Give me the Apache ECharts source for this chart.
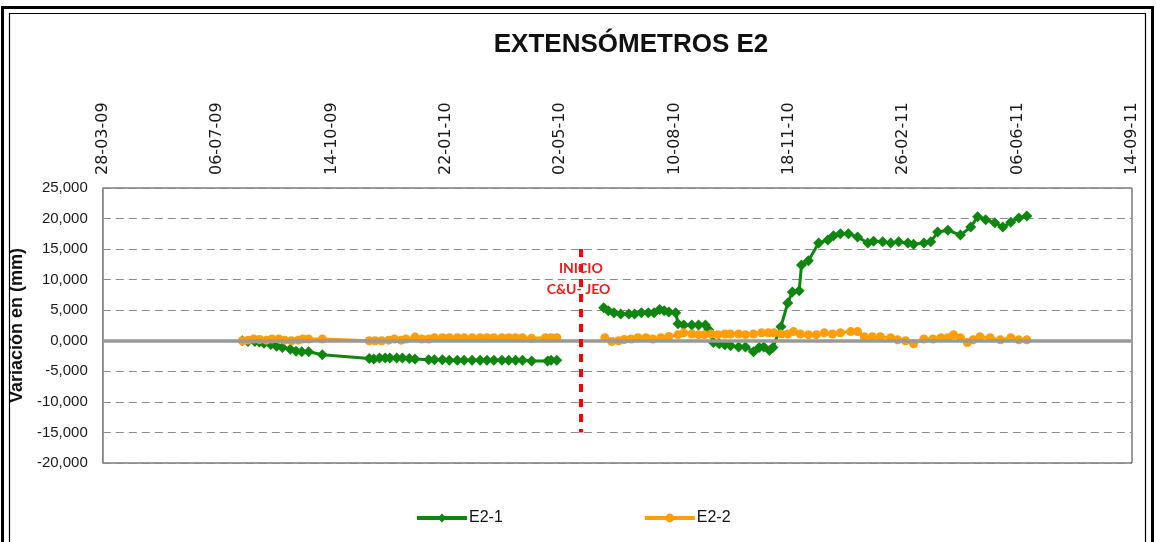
<!DOCTYPE html>
<html>
<head>
<meta charset="utf-8">
<script src="https://cdn.jsdelivr.net/npm/echarts@6/dist/echarts.min.js"></script>
<style>
  html, body { margin: 0; padding: 0; background: #fff; }
  #chart { width: 1156px; height: 542px; }
</style>
</head>
<body>
<div id="chart"></div>
<script>
// Extensometer E2 readings (mm). A null value breaks the line at the start of works.
const datesE21 = [
  '2009-07-28','2009-08-02','2009-08-08','2009-08-12','2009-08-16','2009-08-22','2009-08-27',
  '2009-09-01','2009-09-08','2009-09-13','2009-09-18','2009-09-24','2009-10-06','2009-11-16',
  '2009-11-20','2009-11-25','2009-11-30','2009-12-04','2009-12-10','2009-12-15','2009-12-21',
  '2009-12-26','2010-01-07','2010-01-12','2010-01-19','2010-01-25','2010-02-01','2010-02-07',
  '2010-02-14','2010-02-21','2010-02-27','2010-03-05','2010-03-12','2010-03-18','2010-03-24',
  '2010-03-30','2010-04-07','2010-04-21','2010-04-24','2010-04-29',
  '2010-05-20',
  '2010-06-09','2010-06-13','2010-06-18','2010-06-24','2010-07-01','2010-07-06','2010-07-12',
  '2010-07-18','2010-07-23','2010-07-28','2010-08-01','2010-08-05','2010-08-11','2010-08-13',
  '2010-08-18','2010-08-25','2010-08-31','2010-09-06','2010-09-09','2010-09-13','2010-09-18',
  '2010-09-23','2010-09-28','2010-10-05','2010-10-11','2010-10-18','2010-10-23','2010-10-27',
  '2010-11-01','2010-11-04','2010-11-11','2010-11-17','2010-11-21','2010-11-27','2010-11-29',
  '2010-12-05','2010-12-14','2010-12-22','2010-12-27','2011-01-02','2011-01-09','2011-01-17',
  '2011-01-26','2011-01-31','2011-02-08','2011-02-15','2011-02-22','2011-03-02','2011-03-07',
  '2011-03-16','2011-03-22','2011-03-28','2011-04-06','2011-04-17','2011-04-26','2011-05-02',
  '2011-05-09','2011-05-17','2011-05-24','2011-05-31','2011-06-07','2011-06-14'
];
const valuesE21 = [
  0.0, -0.1, -0.1, -0.2, -0.4, -0.6, -0.9,
  -1.1, -1.4, -1.7, -1.8, -1.8, -2.3, -2.9,
  -3.0, -2.8, -2.8, -2.8, -2.8, -2.8, -2.9,
  -3.0, -3.1, -3.1, -3.1, -3.2, -3.2, -3.2,
  -3.2, -3.2, -3.2, -3.2, -3.2, -3.2, -3.2,
  -3.2, -3.3, -3.3, -3.2, -3.2,
  null,
  5.4, 4.9, 4.6, 4.4, 4.4, 4.4, 4.6,
  4.6, 4.6, 5.1, 4.9, 4.7, 4.6, 2.8,
  2.6, 2.6, 2.6, 2.6, 1.8, -0.3, -0.5,
  -0.65, -0.8, -1.0, -1.0, -1.8, -1.1, -1.0,
  -1.6, -1.1, 2.3, 6.2, 8.0, 8.2, 12.4,
  13.1, 16.0, 16.5, 17.2, 17.5, 17.5, 17.0,
  16.0, 16.3, 16.2, 16.0, 16.2, 16.0, 15.8,
  16.0, 16.2, 17.8, 18.1, 17.3, 18.6, 20.3,
  19.8, 19.3, 18.6, 19.4, 20.1, 20.4
];

const datesE22 = [
  '2009-07-28','2009-08-02','2009-08-07','2009-08-12','2009-08-18','2009-08-23','2009-08-29',
  '2009-09-03','2009-09-09','2009-09-15','2009-09-19','2009-09-24','2009-10-06','2009-11-16',
  '2009-11-21','2009-11-27','2009-12-03','2009-12-08','2009-12-14','2009-12-18','2009-12-26',
  '2010-01-01','2010-01-07','2010-01-12','2010-01-19','2010-01-25','2010-02-01','2010-02-07',
  '2010-02-14','2010-02-21','2010-02-27','2010-03-05','2010-03-12','2010-03-18','2010-03-24',
  '2010-03-30','2010-04-07','2010-04-19','2010-04-24','2010-04-29',
  '2010-05-20',
  '2010-06-10','2010-06-16','2010-06-22','2010-06-27','2010-07-03','2010-07-09','2010-07-16',
  '2010-07-22','2010-07-29','2010-08-05','2010-08-13','2010-08-18','2010-08-25','2010-08-31',
  '2010-09-05','2010-09-11','2010-09-17','2010-09-23','2010-09-28','2010-10-05','2010-10-11',
  '2010-10-18','2010-10-25','2010-10-31','2010-11-05','2010-11-11','2010-11-17','2010-11-22',
  '2010-11-28','2010-12-05','2010-12-12','2010-12-19','2010-12-26','2011-01-02','2011-01-11',
  '2011-01-17','2011-01-23','2011-01-30','2011-02-06','2011-02-15','2011-02-21','2011-02-28',
  '2011-03-07','2011-03-16','2011-03-24','2011-03-31','2011-04-06','2011-04-11','2011-04-17',
  '2011-04-23','2011-04-28','2011-05-04','2011-05-13','2011-05-22','2011-05-31','2011-06-07',
  '2011-06-14'
];
const valuesE22 = [
  0.0, 0.1, 0.3, 0.2, 0.1, 0.3, 0.3,
  0.1, 0.0, 0.1, 0.3, 0.3, 0.3, 0.0,
  0.0, 0.0, 0.1, 0.3, 0.1, 0.3, 0.6,
  0.3, 0.3, 0.5, 0.5, 0.5, 0.5, 0.5,
  0.5, 0.5, 0.5, 0.5, 0.5, 0.5, 0.5,
  0.5, 0.4, 0.5, 0.5, 0.5,
  null,
  0.5, -0.1, 0.0, 0.2, 0.3, 0.5, 0.5,
  0.3, 0.5, 0.7, 1.0, 1.3, 1.1, 1.0,
  1.0, 1.1, 1.0, 1.1, 1.1, 1.1, 1.0,
  1.1, 1.3, 1.3, 1.3, 1.1, 1.1, 1.5,
  1.1, 1.0, 1.0, 1.3, 1.1, 1.3, 1.5,
  1.5, 0.65, 0.65, 0.65, 0.5, 0.15, 0.0,
  -0.5, 0.3, 0.3, 0.5, 0.5, 1.0, 0.5,
  -0.3, 0.15, 0.65, 0.5, 0.15, 0.5, 0.15,
  0.15
];

// Start of works marker
const startDate = '2010-05-20';
const startLabels = ['INICIO', 'C&U- JEO'];

// Date axis: ticks every 100 days from 28-03-09 to 14-09-11
const DAY = 86400000;
const axisStart = Date.UTC(2009, 2, 28);
const axisStepDays = 100;
const axisSteps = 9;

const pairs = (dates, vals) => dates.map((d, i) => [Date.parse(d), vals[i] === null ? '-' : vals[i]]);
const pad = n => String(n).padStart(2, '0');
const fmtDate = v => {
  const d = new Date(v);
  return pad(d.getUTCDate()) + '-' + pad(d.getUTCMonth() + 1) + '-' + pad(d.getUTCFullYear() % 100);
};
const fmtNum = v => v.toFixed(3).replace('.', ',');

const GREEN = '#0f860f';
const ORANGE = '#ff9d0a';
const startT = Date.parse(startDate);

const chart = echarts.init(document.getElementById('chart'), null, { renderer: 'canvas' });
chart.setOption({
  animation: false,
  backgroundColor: '#ffffff',
  title: {
    text: 'EXTENSÓMETROS E2',
    left: 626, top: 27, textAlign: 'center',
    textStyle: { fontFamily: 'Liberation Sans, Arial, sans-serif', fontWeight: 'bold', fontSize: 26, color: '#111' }
  },
  graphic: [
    { type: 'rect', silent: true, z: 100, shape: { x: 2.5, y: 7.5, width: 1150, height: 560 },
      style: { fill: 'none', stroke: '#000', lineWidth: 3 } },
    { type: 'rect', silent: true, z: 100, shape: { x: 9.5, y: 13.5, width: 1136, height: 560 },
      style: { fill: 'none', stroke: '#000', lineWidth: 1.2 } }
  ],
  legend: {
    left: 410, top: 505,
    itemWidth: 50, itemHeight: 11, itemGap: 140,
    lineStyle: { width: 4 },
    textStyle: { fontFamily: 'Liberation Sans, Arial, sans-serif', fontSize: 16, color: '#111', padding: [0, 0, 0, -3] },
    data: ['E2-1', 'E2-2']
  },
  grid: {
    left: 100, right: 24, top: 188, bottom: 79,
    show: true, borderColor: '#3a3a3a', borderWidth: 1, backgroundColor: 'transparent'
  },
  xAxis: {
    type: 'value', position: 'top',
    min: axisStart, max: axisStart + axisSteps * axisStepDays * DAY, interval: axisStepDays * DAY,
    axisLine: { show: false }, axisTick: { show: false }, splitLine: { show: false },
    axisLabel: {
      rotate: 90, margin: 13, formatter: fmtDate,
      fontFamily: 'DejaVu Sans, sans-serif', fontSize: 16, color: '#1a1a1a'
    }
  },
  yAxis: {
    type: 'value', min: -20, max: 25, interval: 5,
    name: 'Variación en (mm)', nameLocation: 'middle', nameGap: 66, nameRotate: 90,
    nameTextStyle: { fontFamily: 'Liberation Sans, Arial, sans-serif', fontWeight: 'bold', fontSize: 18, color: '#111' },
    axisLine: { show: true, lineStyle: { color: '#8c8c8c', width: 1.5 } },
    axisTick: { show: false },
    splitLine: { show: true, lineStyle: { color: '#8c8c8c', width: 1.2, type: [8, 5] } },
    axisLabel: {
      margin: 15, formatter: fmtNum,
      fontFamily: 'Liberation Sans, Arial, sans-serif', fontSize: 15, color: '#1a1a1a'
    }
  },
  series: [
    {
      // zero reference line
      type: 'line', name: '_zero', data: [], silent: true, z: 1,
      markLine: {
        silent: true, symbol: 'none', label: { show: false },
        lineStyle: { color: '#999999', width: 3.5, type: 'solid' },
        data: [{ yAxis: 0 }]
      }
    },
    {
      name: 'E2-1', type: 'line', z: 3,
      data: pairs(datesE21, valuesE21),
      connectNulls: false,
      symbol: 'diamond', symbolSize: 11,
      lineStyle: { color: GREEN, width: 3 },
      itemStyle: { color: GREEN },
      markLine: {
        silent: true, symbol: 'none', label: { show: false }, z: 5,
        lineStyle: { color: '#ff0000', width: 4, type: [8, 7] },
        data: [[{ coord: [startT, 15] }, { coord: [startT, -15] }]]
      },
      markPoint: {
        silent: true, symbol: 'circle', symbolSize: 0,
        label: {
          show: true, position: 'inside',
          fontFamily: 'Lato, Open Sans, sans-serif', fontWeight: 'bold', fontSize: 14, color: '#f01818'
        },
        data: [
          { coord: [startT, 11.8], value: startLabels[0], label: { formatter: startLabels[0] } },
          { coord: [startT - 2 * DAY, 8.4], value: startLabels[1], label: { formatter: startLabels[1] } }
        ]
      }
    },
    {
      name: 'E2-2', type: 'line', z: 4,
      data: pairs(datesE22, valuesE22),
      connectNulls: false,
      symbol: 'circle', symbolSize: 9,
      lineStyle: { color: ORANGE, width: 3 },
      itemStyle: { color: ORANGE }
    }
  ]
});
</script>
</body>
</html>
